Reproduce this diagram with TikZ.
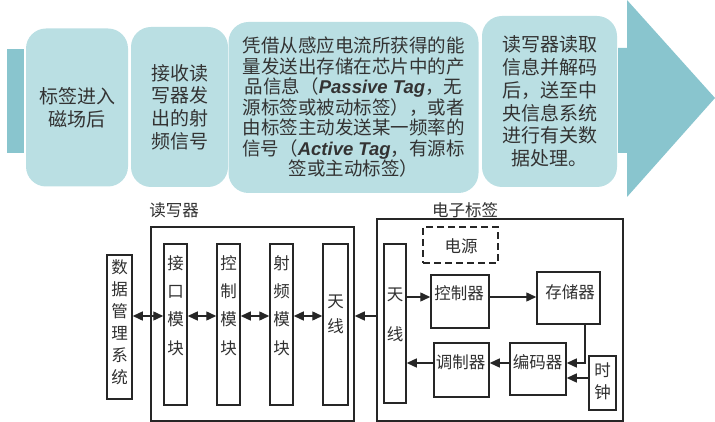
\documentclass[tikz,border=0pt]{standalone}
\usepackage{fontspec}
\setmainfont{Noto Sans CJK SC}
\newfontfamily\latbi{Liberation Sans}
\usetikzlibrary{arrows.meta}
\definecolor{boxfill}{HTML}{BADFE3}
\definecolor{arrowfill}{HTML}{89C5CE}
\definecolor{toptxt}{HTML}{333333}
\definecolor{lowtxt}{HTML}{303030}
\definecolor{lineclr}{HTML}{262626}
\newcommand{\lbi}[1]{{\latbi\bfseries\itshape #1}}
\begin{document}
\begin{tikzpicture}[x=1pt,y=-1pt,
  stepcard/.style={fill=boxfill, draw=none, rounded corners=20pt, inner sep=0pt,
    align=center, text=toptxt},
  cardfont/.style={font=\fontsize{19}{22.7}\selectfont},
  blk/.style={draw=lineclr, line width=1.5pt, inner sep=0pt},
  lowlbl/.style={inner sep=0pt, align=center, text=lowtxt, font=\fontsize{16.5}{22}\selectfont},
  arr/.style={draw=lineclr, line width=1.4pt, -{Triangle[length=10pt,width=9pt]}},
  dbl/.style={draw=lineclr, line width=1.4pt, {Triangle[length=10pt,width=9pt]}-{Triangle[length=10pt,width=9pt]}}
]
\useasboundingbox (0,0) rectangle (715,422);

% ---------- top process strip ----------
\fill[arrowfill] (7,49) rectangle (24,153);
\fill[arrowfill] (618,48) -- (627,48) -- (627,0) -- (715,98) -- (627,197) -- (627,153) -- (618,153) -- cycle;

\node[stepcard, cardfont, minimum width=102pt, minimum height=158pt] (c1) at (77,107.5)
  {标签进入\\磁场后};
\node[stepcard, cardfont, minimum width=97pt, minimum height=160pt] (c2) at (179.5,107)
  {接收读\\写器发\\出的射\\频信号};
\node[stepcard, font=\fontsize{18.5}{20.5}\selectfont, minimum width=250pt, minimum height=171pt] (c3) at (353.5,107.5)
  {凭借从感应电流所获得的能\\量发送出存储在芯片中的产\\品信息（\lbi{Passive Tag}，无\\源标签或被动标签），或者\\由标签主动发送某一频率的\\信号（\lbi{Active Tag}，有源标\\签或主动标签）};
\node[stepcard, cardfont, minimum width=135pt, minimum height=171pt] (c4) at (549.5,101.5)
  {读写器读取\\信息并解码\\后，送至中\\央信息系统\\进行有关数\\据处理。};

% ---------- reader ----------
\coordinate (ya) at (0,316);
\node[lowlbl] (readerlbl) at (174,210) {读写器};
\node[blk, minimum width=203pt, minimum height=194pt] (reader) at (252.5,324) {};
\node[blk, minimum width=25pt, minimum height=144pt] (dms) at (119.5,327) {};
\node[lowlbl, font=\fontsize{16.5}{22}\selectfont] (dmst) at (119.5,322.5) {数\\据\\管\\理\\系\\统};
\node[blk, minimum width=23pt, minimum height=161pt] (ifm) at (175.5,324.5) {};
\node[lowlbl, font=\fontsize{16.5}{28.3}\selectfont] (ifmt) at (175.5,305.5) {接\\口\\模\\块};
\node[blk, minimum width=23pt, minimum height=161pt] (ctm) at (228.5,324.5) {};
\node[lowlbl, font=\fontsize{16.5}{28.3}\selectfont] (ctmt) at (228.5,305.5) {控\\制\\模\\块};
\node[blk, minimum width=23pt, minimum height=161pt] (rfm) at (281.5,324.5) {};
\node[lowlbl, font=\fontsize{16.5}{28.3}\selectfont] (rfmt) at (281.5,305.5) {射\\频\\模\\块};
\node[blk, minimum width=25pt, minimum height=161pt] (rant) at (335.5,324.5) {};
\node[lowlbl, font=\fontsize{16.5}{25}\selectfont] (rantt) at (335.5,314.5) {天\\线};

\draw[dbl] (dms.east |- ya) -- (ifm.west |- ya);
\draw[dbl] (ifm.east |- ya) -- (ctm.west |- ya);
\draw[dbl] (ctm.east |- ya) -- (rfm.west |- ya);
\draw[dbl] (rfm.east |- ya) -- (rant.west |- ya);

% ---------- tag ----------
\coordinate (yb) at (0,297);
\coordinate (yc) at (0,363);
\coordinate (yd) at (0,378);
\coordinate (xa) at (585,0);
\node[lowlbl] (taglbl) at (465,210) {电子标签};
\node[blk, minimum width=246pt, minimum height=202pt] (tag) at (500,320) {};
\node[blk, dashed, dash pattern=on 7pt off 4pt, minimum width=75pt, minimum height=36pt] (pwr) at (460.5,245) {};
\node[lowlbl] (pwrt) at (461,246) {电源};
\node[blk, minimum width=22pt, minimum height=159pt] (tant) at (395,323.5) {};
\node[lowlbl, font=\fontsize{16.5}{40}\selectfont] (tantt) at (395,315) {天\\线};
\node[blk, minimum width=58pt, minimum height=53pt] (ctrl) at (460,301.5) {};
\node[lowlbl] (ctrlt) at (459,293) {控制器};
\node[blk, minimum width=63pt, minimum height=52pt] (mem) at (568.5,298) {};
\node[lowlbl] (memt) at (570,292) {存储器};
\node[blk, minimum width=55pt, minimum height=54pt] (mod) at (461.5,370) {};
\node[lowlbl] (modt) at (460.5,362) {调制器};
\node[blk, minimum width=56pt, minimum height=52pt] (enc) at (538,369) {};
\node[lowlbl] (enct) at (537.5,362) {编码器};
\node[blk, minimum width=27pt, minimum height=54pt] (clk) at (602.5,383) {};
\node[lowlbl, font=\fontsize{16.5}{22}\selectfont] (clkt) at (602.5,381) {时\\钟};

\draw[arr] (tant.east |- yb) -- (ctrl.west |- yb);
\draw[arr] (ctrl.east |- yb) -- (mem.west |- yb);
\draw[arr] (mem.south -| xa) |- (enc.east |- yc);
\draw[arr] (clk.west |- yd) -- (enc.east |- yd);
\draw[arr] (enc.west |- yc) -- (mod.east |- yc);
\draw[arr] (mod.west |- yc) -- (tant.east |- yc);
\draw[arr] (tag.west |- ya) -- (reader.east |- ya);
\end{tikzpicture}
\end{document}
